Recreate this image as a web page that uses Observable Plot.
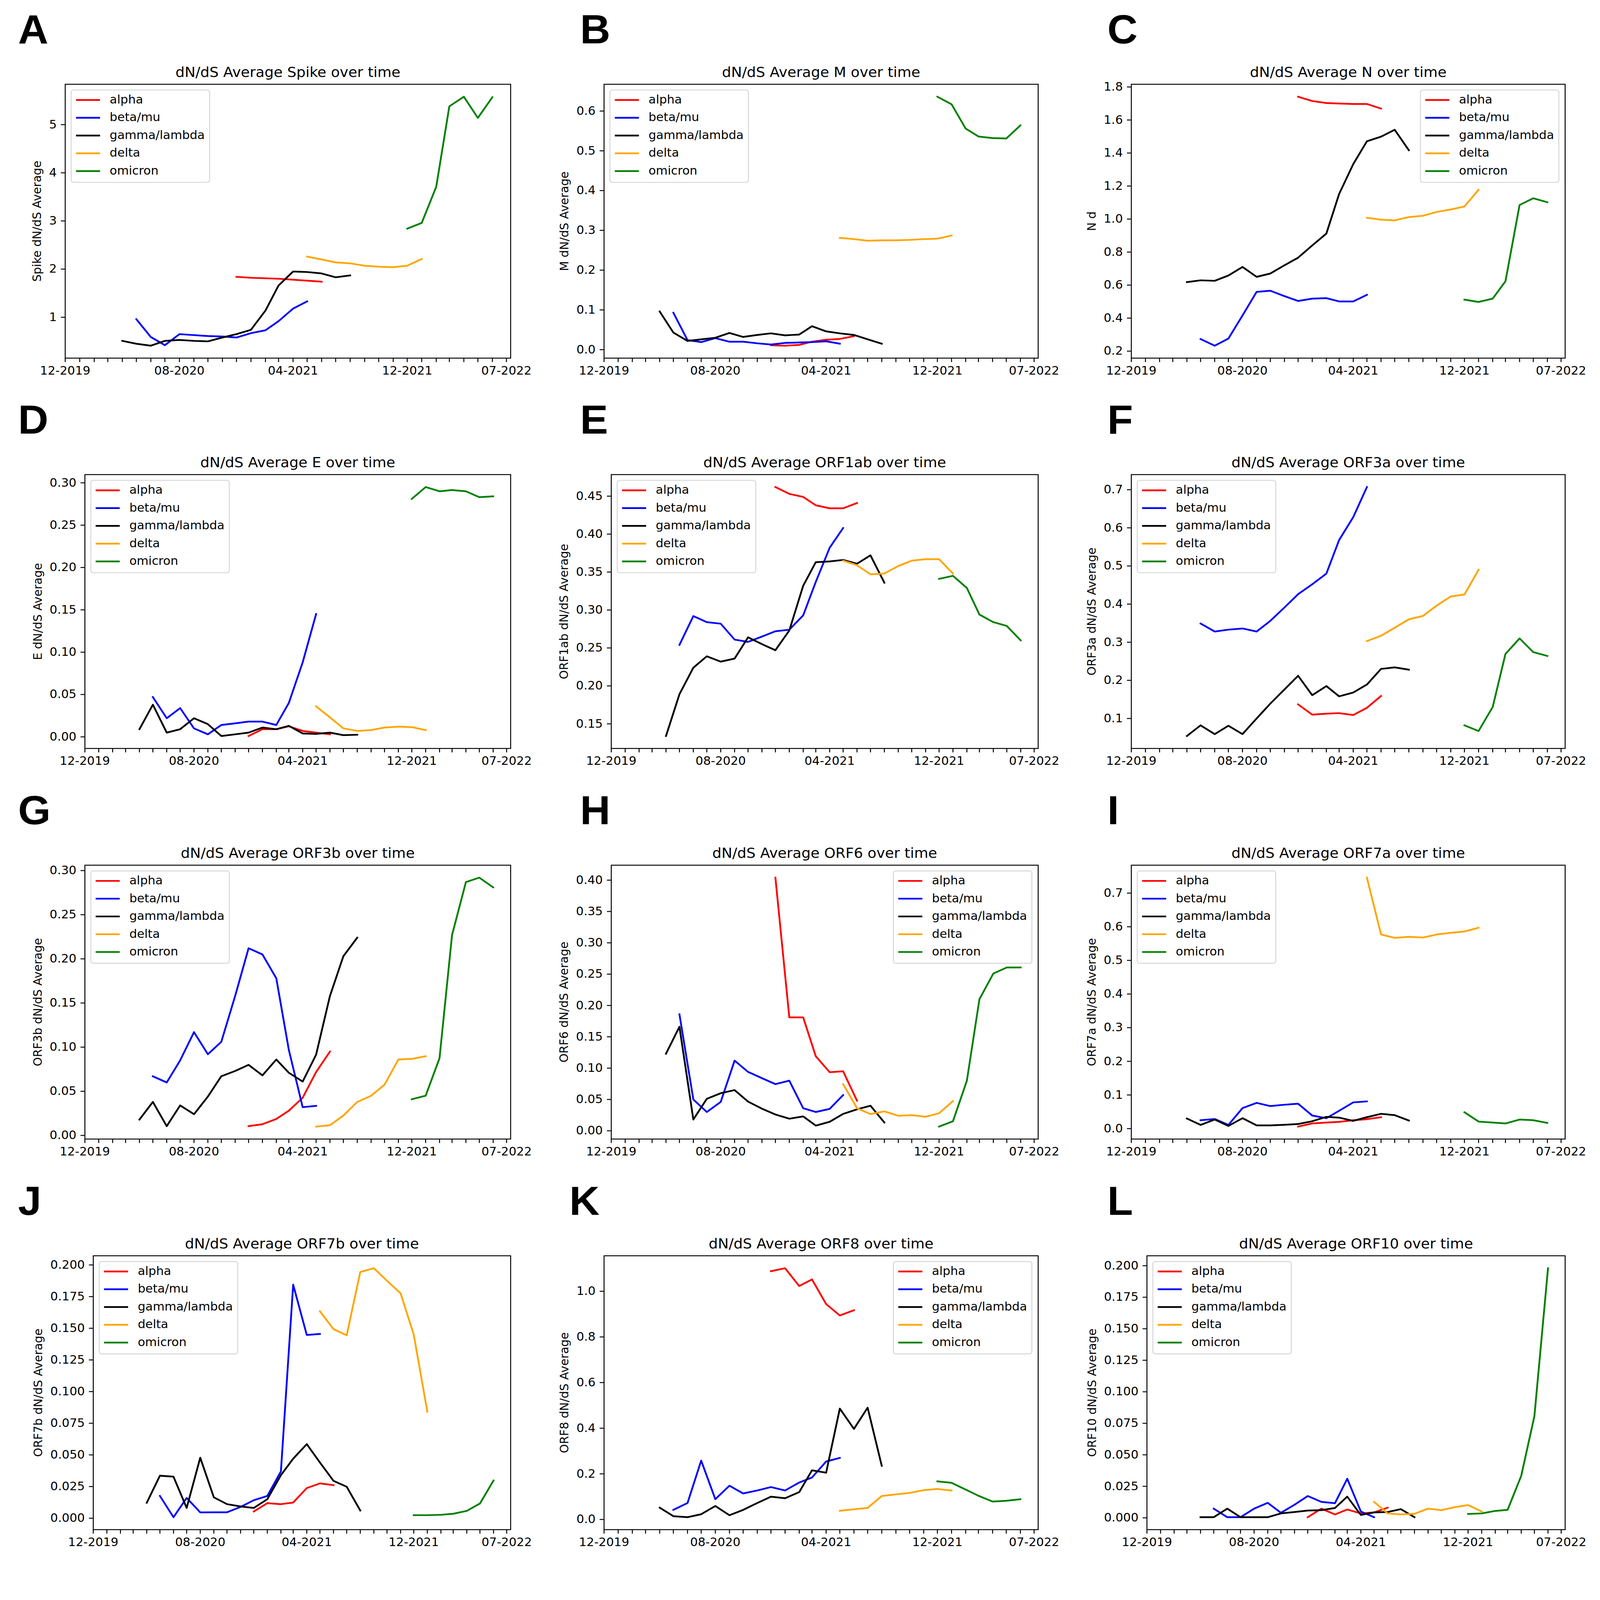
<!DOCTYPE html>
<html><head><meta charset="utf-8">
<script src="https://cdn.jsdelivr.net/npm/d3@7"></script>
<script src="https://cdn.jsdelivr.net/npm/@observablehq/plot@0.6"></script>
<style>
html,body{margin:0;padding:0;background:#fff;overflow:hidden;}
#outer{position:relative;overflow:hidden;background:#fff;}
#fig{position:absolute;left:0;top:0;width:5532px;height:5743px;background:#fff;overflow:hidden;transform-origin:0 0;}
.panel{position:absolute;}
.panel svg{overflow:visible;display:block;}
.legend{position:absolute;overflow:visible;}
</style></head>
<body><div id="outer"><div id="fig"></div></div>
<script>
// ---------- data ----------
const variants = ["alpha", "beta/mu", "gamma/lambda", "delta", "omicron"];
const variantColors = ["#ff0000", "#0000ff", "#000000", "#ffa500", "#008000"];
const monthTickLabels = ["12-2019", "08-2020", "04-2021", "12-2021", "07-2022"];

// [variant, first month, monthly values]
const spike = [
  ["alpha", "2020-12", [1.84, 1.82, 1.81, 1.80, 1.78, 1.76, 1.74]],
  ["beta/mu", "2020-05", [0.96, 0.59, 0.42, 0.65, 0.63, 0.61, 0.60, 0.58, 0.67, 0.73, 0.92, 1.18, 1.33]],
  ["gamma/lambda", "2020-04", [0.51, 0.45, 0.41, 0.51, 0.53, 0.51, 0.50, 0.58, 0.65, 0.74, 1.14, 1.66, 1.95, 1.94, 1.91, 1.83, 1.87]],
  ["delta", "2021-05", [2.26, 2.20, 2.14, 2.12, 2.07, 2.05, 2.04, 2.07, 2.21]],
  ["omicron", "2021-12", [2.84, 2.96, 3.71, 5.38, 5.58, 5.14, 5.57]]
];
const geneM = [
  ["alpha", "2020-12", [0.011, 0.010, 0.012, 0.020, 0.025, 0.027, 0.034]],
  ["beta/mu", "2020-05", [0.093, 0.024, 0.019, 0.029, 0.020, 0.020, 0.016, 0.013, 0.017, 0.018, 0.019, 0.021, 0.015]],
  ["gamma/lambda", "2020-04", [0.096, 0.043, 0.022, 0.026, 0.030, 0.042, 0.032, 0.037, 0.041, 0.036, 0.038, 0.059, 0.046, 0.041, 0.037, 0.026, 0.015]],
  ["delta", "2021-05", [0.281, 0.278, 0.274, 0.275, 0.275, 0.276, 0.278, 0.279, 0.287]],
  ["omicron", "2021-12", [0.636, 0.617, 0.556, 0.536, 0.532, 0.531, 0.564]]
];
const geneN = [
  ["alpha", "2020-12", [1.741, 1.715, 1.703, 1.700, 1.697, 1.697, 1.669]],
  ["beta/mu", "2020-05", [0.273, 0.233, 0.276, 0.416, 0.559, 0.566, 0.533, 0.504, 0.518, 0.521, 0.501, 0.501, 0.541]],
  ["gamma/lambda", "2020-04", [0.618, 0.629, 0.626, 0.658, 0.710, 0.650, 0.670, 0.720, 0.766, 0.840, 0.912, 1.152, 1.333, 1.471, 1.499, 1.541, 1.417]],
  ["delta", "2021-05", [1.008, 0.996, 0.992, 1.012, 1.020, 1.043, 1.058, 1.076, 1.177]],
  ["omicron", "2021-12", [0.512, 0.498, 0.518, 0.623, 1.085, 1.126, 1.102]]
];
const geneE = [
  ["alpha", "2020-12", [0.001, 0.009, 0.009, 0.0125, 0.007, 0.005, 0.003]],
  ["beta/mu", "2020-05", [0.047, 0.022, 0.034, 0.010, 0.003, 0.014, 0.016, 0.018, 0.018, 0.014, 0.040, 0.088, 0.145]],
  ["gamma/lambda", "2020-04", [0.009, 0.038, 0.005, 0.009, 0.022, 0.015, 0.001, 0.003, 0.005, 0.011, 0.009, 0.013, 0.004, 0.0035, 0.005, 0.002, 0.0025]],
  ["delta", "2021-05", [0.036, 0.023, 0.010, 0.007, 0.008, 0.011, 0.012, 0.0115, 0.008]],
  ["omicron", "2021-12", [0.281, 0.295, 0.290, 0.2915, 0.290, 0.283, 0.284]]
];
const orf1ab = [
  ["alpha", "2020-12", [0.462, 0.453, 0.449, 0.438, 0.434, 0.434, 0.441]],
  ["beta/mu", "2020-05", [0.254, 0.292, 0.284, 0.282, 0.261, 0.258, 0.265, 0.272, 0.274, 0.293, 0.337, 0.382, 0.408]],
  ["gamma/lambda", "2020-04", [0.134, 0.189, 0.224, 0.239, 0.232, 0.236, 0.264, 0.255, 0.247, 0.273, 0.332, 0.363, 0.364, 0.366, 0.361, 0.372, 0.336]],
  ["delta", "2021-05", [0.365, 0.359, 0.347, 0.348, 0.358, 0.365, 0.367, 0.367, 0.348]],
  ["omicron", "2021-12", [0.341, 0.345, 0.329, 0.294, 0.284, 0.279, 0.260]]
];
const orf3a = [
  ["alpha", "2020-12", [0.137, 0.110, 0.1125, 0.114, 0.109, 0.128, 0.159]],
  ["beta/mu", "2020-05", [0.349, 0.328, 0.333, 0.336, 0.328, 0.356, 0.391, 0.426, 0.452, 0.480, 0.568, 0.628, 0.707]],
  ["gamma/lambda", "2020-04", [0.054, 0.082, 0.059, 0.081, 0.059, 0.100, 0.139, 0.176, 0.212, 0.161, 0.185, 0.158, 0.168, 0.189, 0.230, 0.234, 0.228]],
  ["delta", "2021-05", [0.303, 0.317, 0.338, 0.360, 0.369, 0.396, 0.420, 0.425, 0.490]],
  ["omicron", "2021-12", [0.082, 0.067, 0.130, 0.269, 0.310, 0.274, 0.264]]
];
const orf3b = [
  ["alpha", "2020-12", [0.0105, 0.0127, 0.0186, 0.028, 0.0427, 0.0718, 0.095]],
  ["beta/mu", "2020-05", [0.067, 0.060, 0.085, 0.117, 0.092, 0.106, 0.158, 0.212, 0.205, 0.178, 0.097, 0.032, 0.0335]],
  ["gamma/lambda", "2020-04", [0.018, 0.038, 0.0105, 0.034, 0.024, 0.044, 0.067, 0.073, 0.080, 0.068, 0.086, 0.071, 0.061, 0.0915, 0.158, 0.203, 0.224]],
  ["delta", "2021-05", [0.010, 0.0116, 0.0225, 0.0379, 0.0449, 0.0575, 0.086, 0.0867, 0.0897]],
  ["omicron", "2021-12", [0.041, 0.045, 0.0875, 0.227, 0.287, 0.292, 0.281]]
];
const orf6 = [
  ["alpha", "2020-12", [0.404, 0.181, 0.181, 0.119, 0.0935, 0.095, 0.048]],
  ["beta/mu", "2020-05", [0.186, 0.050, 0.030, 0.046, 0.112, 0.094, 0.084, 0.0745, 0.080, 0.036, 0.030, 0.035, 0.057]],
  ["gamma/lambda", "2020-04", [0.123, 0.166, 0.018, 0.051, 0.060, 0.065, 0.0466, 0.0353, 0.026, 0.0193, 0.023, 0.0083, 0.0144, 0.027, 0.0343, 0.040, 0.0132]],
  ["delta", "2021-05", [0.0745, 0.036, 0.0267, 0.031, 0.024, 0.025, 0.0224, 0.028, 0.0475]],
  ["omicron", "2021-12", [0.0067, 0.0153, 0.080, 0.210, 0.251, 0.2606, 0.2606]]
];
const orf7a = [
  ["alpha", "2020-12", [0.006, 0.0154, 0.018, 0.020, 0.025, 0.028, 0.034]],
  ["beta/mu", "2020-05", [0.025, 0.0286, 0.011, 0.061, 0.0766, 0.067, 0.071, 0.074, 0.039, 0.031, 0.053, 0.078, 0.081]],
  ["gamma/lambda", "2020-04", [0.030, 0.011, 0.027, 0.008, 0.031, 0.0097, 0.0097, 0.0114, 0.0137, 0.022, 0.035, 0.0326, 0.023, 0.034, 0.044, 0.040, 0.024]],
  ["delta", "2021-05", [0.746, 0.577, 0.567, 0.570, 0.568, 0.577, 0.582, 0.586, 0.597]],
  ["omicron", "2021-12", [0.0486, 0.021, 0.018, 0.0154, 0.027, 0.025, 0.017]]
];
const orf7b = [
  ["alpha", "2020-12", [0.0053, 0.0119, 0.0111, 0.0124, 0.0238, 0.0275, 0.0261]],
  ["beta/mu", "2020-05", [0.0176, 0.0008, 0.016, 0.0046, 0.0047, 0.0047, 0.0089, 0.0142, 0.0176, 0.037, 0.1844, 0.1447, 0.1455]],
  ["gamma/lambda", "2020-04", [0.0122, 0.0336, 0.0328, 0.0081, 0.0478, 0.0165, 0.0111, 0.0093, 0.0081, 0.015, 0.034, 0.047, 0.0585, 0.044, 0.0295, 0.0249, 0.0061]],
  ["delta", "2021-05", [0.1634, 0.1493, 0.1444, 0.1944, 0.1974, 0.1875, 0.1776, 0.145, 0.0841]],
  ["omicron", "2021-12", [0.0024, 0.0024, 0.0027, 0.0035, 0.0058, 0.0116, 0.0298]]
];
const orf8 = [
  ["alpha", "2020-12", [1.088, 1.101, 1.023, 1.052, 0.944, 0.894, 0.917]],
  ["beta/mu", "2020-05", [0.042, 0.072, 0.258, 0.089, 0.148, 0.114, 0.127, 0.142, 0.127, 0.162, 0.184, 0.254, 0.270]],
  ["gamma/lambda", "2020-04", [0.052, 0.0144, 0.010, 0.023, 0.059, 0.0186, 0.042, 0.072, 0.100, 0.093, 0.120, 0.2155, 0.205, 0.486, 0.397, 0.490, 0.235]],
  ["delta", "2021-05", [0.038, 0.0448, 0.0507, 0.103, 0.110, 0.1167, 0.1285, 0.1336, 0.127]],
  ["omicron", "2021-12", [0.167, 0.1606, 0.131, 0.104, 0.0786, 0.082, 0.0888]]
];
const orf10 = [
  ["alpha", "2020-12", [0.0005, 0.0073, 0.0027, 0.0066, 0.0035, 0.0043, 0.0081]],
  ["beta/mu", "2020-05", [0.0073, 0.0005, 0.0005, 0.0073, 0.0119, 0.004, 0.0104, 0.0173, 0.0127, 0.0116, 0.031, 0.005, 0.0005]],
  ["gamma/lambda", "2020-04", [0.0005, 0.0005, 0.0073, 0.0005, 0.0005, 0.0005, 0.0035, 0.0046, 0.0058, 0.0061, 0.0078, 0.0168, 0.0023, 0.0043, 0.0046, 0.0069, 0.0005]],
  ["delta", "2021-05", [0.0127, 0.0035, 0.0027, 0.0032, 0.0073, 0.0061, 0.0085, 0.0101, 0.005]],
  ["omicron", "2021-12", [0.0031, 0.0035, 0.0055, 0.0063, 0.0333, 0.0806, 0.198]]
];

// y tick values
const ticksSpike = [1, 2, 3, 4, 5];
const ticksM = [0.0, 0.1, 0.2, 0.3, 0.4, 0.5, 0.6];
const ticksN = [0.2, 0.4, 0.6, 0.8, 1.0, 1.2, 1.4, 1.6, 1.8];
const ticksE = [0.00, 0.05, 0.10, 0.15, 0.20, 0.25, 0.30];
const ticks1ab = [0.15, 0.20, 0.25, 0.30, 0.35, 0.40, 0.45];
const ticks3a = [0.1, 0.2, 0.3, 0.4, 0.5, 0.6, 0.7];
const ticks3b = [0.00, 0.05, 0.10, 0.15, 0.20, 0.25, 0.30];
const ticks6 = [0.00, 0.05, 0.10, 0.15, 0.20, 0.25, 0.30, 0.35, 0.40];
const ticks7a = [0.0, 0.1, 0.2, 0.3, 0.4, 0.5, 0.6, 0.7];
const ticks7b = [0.000, 0.025, 0.050, 0.075, 0.100, 0.125, 0.150, 0.175, 0.200];
const ticks8 = [0.0, 0.2, 0.4, 0.6, 0.8, 1.0];
const ticks10 = [0.000, 0.025, 0.050, 0.075, 0.100, 0.125, 0.150, 0.175, 0.200];

// ---------- layout (pixels of the 5532 x 5743 figure) ----------
const FIG_W = 5532, FIG_H = 5743;
const rowTops = [302, 1703, 3105, 4507];
const frameH = 983;
const panels = [
  {letter: "A", gene: spike, title: "dN/dS Average Spike over time", ylabel: "Spike dN/dS Average", yticks: ticksSpike, fmt: "d", legend: "left", x0: 225, x1: 1765, row: 0, lx: 62},
  {letter: "B", gene: geneM, title: "dN/dS Average M over time", ylabel: "M dN/dS Average", yticks: ticksM, fmt: ".1f", legend: "left", x0: 2088, x1: 3589, row: 0, lx: 2005},
  {letter: "C", gene: geneN, title: "dN/dS Average N over time", ylabel: "N d", yticks: ticksN, fmt: ".1f", legend: "right", x0: 3911, x1: 5411, row: 0, lx: 3828},
  {letter: "D", gene: geneE, title: "dN/dS Average E over time", ylabel: "E dN/dS Average", yticks: ticksE, fmt: ".2f", legend: "left", x0: 293, x1: 1765, row: 1, lx: 62},
  {letter: "E", gene: orf1ab, title: "dN/dS Average ORF1ab over time", ylabel: "ORF1ab dN/dS Average", yticks: ticks1ab, fmt: ".2f", legend: "left", x0: 2113, x1: 3589, row: 1, lx: 2005},
  {letter: "F", gene: orf3a, title: "dN/dS Average ORF3a over time", ylabel: "ORF3a dN/dS Average", yticks: ticks3a, fmt: ".1f", legend: "left", x0: 3911, x1: 5411, row: 1, lx: 3828},
  {letter: "G", gene: orf3b, title: "dN/dS Average ORF3b over time", ylabel: "ORF3b dN/dS Average", yticks: ticks3b, fmt: ".2f", legend: "left", x0: 293, x1: 1765, row: 2, lx: 62},
  {letter: "H", gene: orf6, title: "dN/dS Average ORF6 over time", ylabel: "ORF6 dN/dS Average", yticks: ticks6, fmt: ".2f", legend: "right", x0: 2113, x1: 3589, row: 2, lx: 2005},
  {letter: "I", gene: orf7a, title: "dN/dS Average ORF7a over time", ylabel: "ORF7a dN/dS Average", yticks: ticks7a, fmt: ".1f", legend: "left", x0: 3911, x1: 5411, row: 2, lx: 3828},
  {letter: "J", gene: orf7b, title: "dN/dS Average ORF7b over time", ylabel: "ORF7b dN/dS Average", yticks: ticks7b, fmt: ".3f", legend: "left", x0: 322, x1: 1765, row: 3, lx: 62},
  {letter: "K", gene: orf8, title: "dN/dS Average ORF8 over time", ylabel: "ORF8 dN/dS Average", yticks: ticks8, fmt: ".1f", legend: "right", x0: 2088, x1: 3589, row: 3, lx: 1968},
  {letter: "L", gene: orf10, title: "dN/dS Average ORF10 over time", ylabel: "ORF10 dN/dS Average", yticks: ticks10, fmt: ".3f", legend: "left", x0: 3965, x1: 5411, row: 3, lx: 3828}
];

const FS = 41.67, TITLE_FS = 50, LW = 6.25, SPINE = 3.33, TICK = 14.6, PAD = 14.6;
const M = {left: 360, right: 150, top: 300, bottom: 140};
const xDomain = [new Date(Date.UTC(2019, 11, 1)), new Date(Date.UTC(2022, 6, 10))];
const allMonths = d3.utcMonth.range(new Date(Date.UTC(2019, 11, 1)), new Date(Date.UTC(2022, 6, 2)));
const fmtMonth = d3.utcFormat("%m-%Y");
const labeled = new Set(monthTickLabels);
const parseMonth = d3.utcParse("%Y-%m");

const ctx = document.createElement("canvas").getContext("2d");
function textW(s, px) { ctx.font = `${px}px "DejaVu Sans"`; return ctx.measureText(s).width; }

function toRows(gene) {
  const out = [];
  for (const [variant, start, values] of gene) {
    const t0 = parseMonth(start);
    values.forEach((v, i) => out.push({variant, date: d3.utcMonth.offset(t0, i), value: v}));
  }
  return out;
}

const outer = document.getElementById("outer");
const fig = document.getElementById("fig");

// fit the full figure into whatever viewport the page is given
function fit() {
  const vw = window.innerWidth || document.documentElement.clientWidth || FIG_W;
  const vh = window.innerHeight || document.documentElement.clientHeight || FIG_H;
  const sx = vw / FIG_W, sy = vh / FIG_H;
  outer.style.width = vw + "px";
  outer.style.height = vh + "px";
  fig.style.transform = (Math.abs(sx - 1) < 1e-3 && Math.abs(sy - 1) < 1e-3) ? "none" : `scale(${sx}, ${sy})`;
}
fit();
window.addEventListener("resize", fit);

for (const p of panels) {
  const top = rowTops[p.row];
  const fw = p.x1 - p.x0;
  const rows = toRows(p.gene);
  const [lo, hi] = d3.extent(rows, d => d.value);
  const padY = (hi - lo) * 0.05;
  const fmt = d3.format(p.fmt);
  const tickW = d3.max(p.yticks, t => textW(fmt(t), FS));
  const ylabelOff = TICK + PAD + tickW + 16.7 + 11;

  const chart = Plot.plot({
    width: fw + M.left + M.right,
    height: frameH + M.top + M.bottom,
    marginLeft: M.left, marginRight: M.right, marginTop: M.top, marginBottom: M.bottom,
    style: {background: "transparent", overflow: "visible", maxWidth: "none", fontFamily: "DejaVu Sans", fontSize: FS + "px", color: "#000"},
    x: {type: "utc", domain: xDomain, label: null},
    y: {domain: [lo - padY, hi + padY], label: null},
    color: {domain: variants, range: variantColors},
    marks: [
      Plot.line(rows, {x: "date", y: "value", z: "variant", stroke: "variant", strokeWidth: LW, strokeLinejoin: "round", strokeLinecap: "square"}),
      Plot.frame({stroke: "#000", strokeWidth: SPINE}),
      Plot.axisX({ticks: allMonths, tickSize: TICK, tickPadding: PAD, strokeWidth: SPINE, label: null, fontSize: FS,
        tickFormat: d => labeled.has(fmtMonth(d)) ? fmtMonth(d) : ""}),
      Plot.axisY({ticks: p.yticks, tickSize: TICK, tickPadding: PAD, strokeWidth: SPINE, label: null, fontSize: FS, tickFormat: fmt}),
      Plot.text([p.title], {text: d => d, frameAnchor: "top", dy: -26, lineAnchor: "bottom", textAnchor: "middle", fontSize: TITLE_FS, fill: "#000"}),
      Plot.text([p.ylabel], {text: d => d, frameAnchor: "left", dx: -ylabelOff, rotate: -90, lineAnchor: "bottom", textAnchor: "middle", fontSize: FS, fill: "#000"}),
      Plot.text([p.letter], {text: d => d, frameAnchor: "top-left", dx: p.lx - p.x0, dy: -147, lineAnchor: "bottom", textAnchor: "start", fontSize: 145, fontWeight: "bold", fontFamily: "Liberation Sans", fill: "#000"})
    ]
  });
  const wrap = document.createElement("div");
  wrap.className = "panel";
  wrap.style.left = (p.x0 - M.left) + "px";
  wrap.style.top = (top - M.top) + "px";
  wrap.append(chart);
  fig.append(wrap);

  // legend box (matplotlib-style)
  const lw = 150 + textW("gamma/lambda", FS);
  const lh = 331.6;
  const lx = p.legend === "left" ? p.x0 + 20.8 : p.x1 - 20.8 - lw;
  const ly = top + 20.8;
  const svg = d3.create("svg").attr("class", "legend")
    .attr("width", lw).attr("height", lh)
    .style("left", lx + "px").style("top", ly + "px");
  svg.append("rect").attr("x", 0).attr("y", 0).attr("width", lw).attr("height", lh)
    .attr("rx", 8.3).attr("ry", 8.3)
    .attr("fill", "#fff").attr("fill-opacity", 0.8)
    .attr("stroke", "#cccccc").attr("stroke-opacity", 0.8).attr("stroke-width", SPINE);
  variants.forEach((v, k) => {
    const base = 48.4 + k * 63.8;
    svg.append("line").attr("x1", 16.7).attr("x2", 100).attr("y1", base - 12.5).attr("y2", base - 12.5)
      .attr("stroke", variantColors[k]).attr("stroke-width", LW).attr("stroke-linecap", "butt");
    svg.append("text").attr("x", 133.3).attr("y", base)
      .attr("font-family", "DejaVu Sans").attr("font-size", FS).attr("fill", "#000").text(v);
  });
  fig.append(svg.node());
}
</script>
</body></html>
